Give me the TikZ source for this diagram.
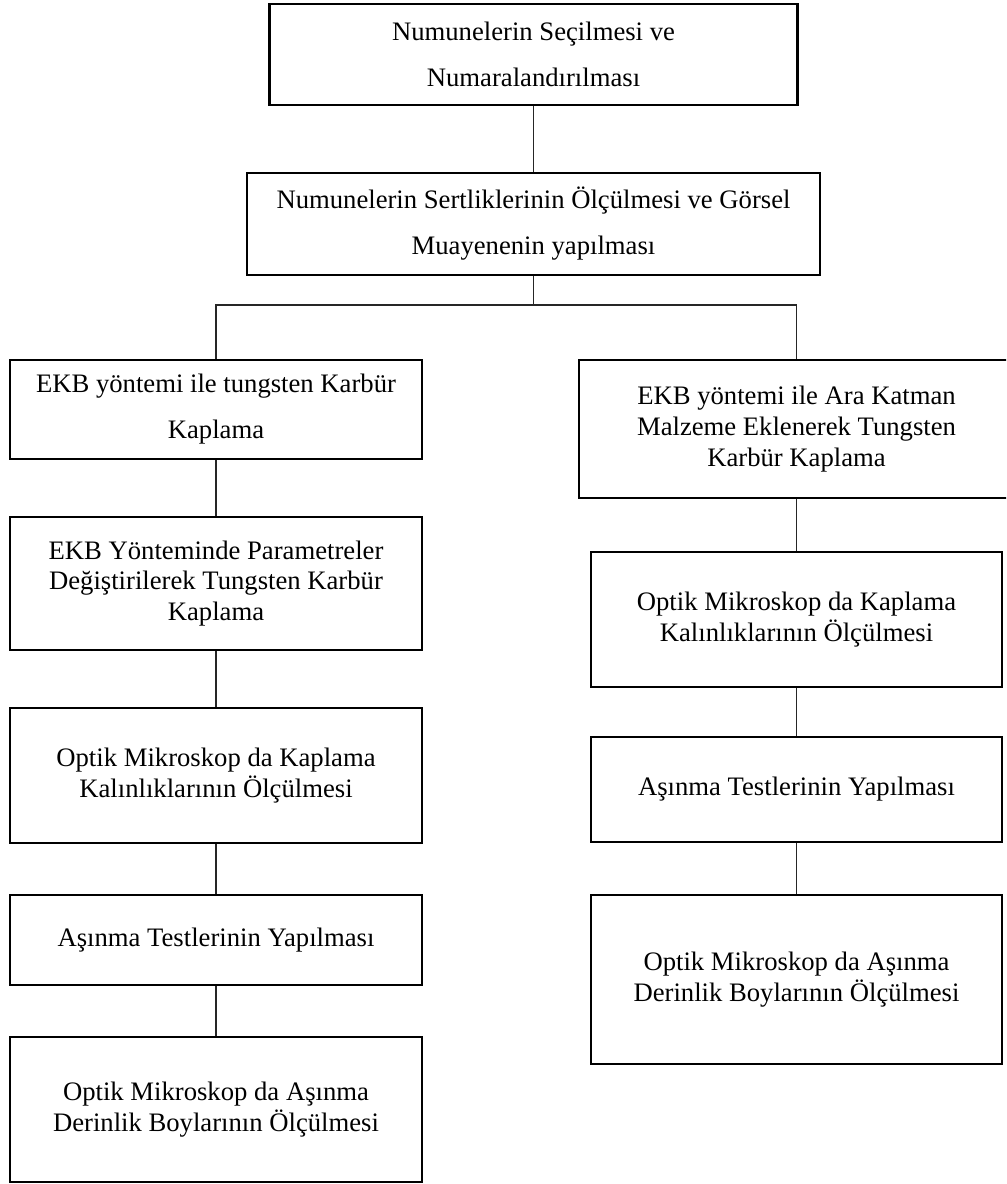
\documentclass[tikz,border=0pt]{standalone}
\usepackage{fontspec}
\setmainfont{Liberation Serif}
\begin{document}
\begin{tikzpicture}[x=0.75pt,y=-0.75pt,
  box/.style={draw=black, line width=2.2pt, inner sep=0pt, align=center,
    font=\fontsize{20}{23}\selectfont},
  wide/.style={font=\fontsize{20}{34.5}\selectfont},
  link/.style={draw=black!85, line width=0.9pt}]
\useasboundingbox (0,0) rectangle (1006,1184);
\clip (0,0) rectangle (1006,1184);
% top boxes
\node[box, wide, minimum width=396.4pt, minimum height=75.75pt] (b1) at (533.5,54.5)
  {Numunelerin Seçilmesi ve\\Numaralandırılması};
\node[box, wide, minimum width=429.75pt, minimum height=76.5pt] (b2) at (533.5,224)
  {Numunelerin Sertliklerinin Ölçülmesi ve Görsel\\Muayenenin yapılması};
\coordinate (j) at (533.5,305);
% left column
\node[box, wide, minimum width=309pt, minimum height=74.25pt] (L1) at (216,409.5)
  {EKB yöntemi ile tungsten Karbür\\Kaplama};
\node[box, minimum width=309pt, minimum height=99.75pt] (L2) at (216,583.5)
  {EKB Yönteminde Parametreler\\Değiştirilerek Tungsten Karbür\\Kaplama};
\node[box, minimum width=309pt, minimum height=101.25pt] (L3) at (216,775.5)
  {Optik Mikroskop da Kaplama\\Kalınlıklarının Ölçülmesi};
\node[box, minimum width=309pt, minimum height=67.5pt] (L4) at (216,940)
  {Aşınma Testlerinin Yapılması};
\node[box, minimum width=309pt, minimum height=108.75pt] (L5) at (216,1109.5)
  {Optik Mikroskop da Aşınma\\Derinlik Boylarının Ölçülmesi};
% right column
\node[box, minimum width=326.25pt, minimum height=103.5pt] (R1) at (796.5,429)
  {EKB yöntemi ile Ara Katman\\Malzeme Eklenerek Tungsten\\Karbür Kaplama};
\node[box, minimum width=308.25pt, minimum height=101.25pt] (R2) at (796.5,619.5)
  {Optik Mikroskop da Kaplama\\Kalınlıklarının Ölçülmesi};
\node[box, minimum width=308.25pt, minimum height=78.75pt] (R3) at (796.5,789.5)
  {Aşınma Testlerinin Yapılması};
\node[box, minimum width=308.25pt, minimum height=126.75pt] (R4) at (796.5,979.5)
  {Optik Mikroskop da Aşınma\\Derinlik Boylarının Ölçülmesi};
% connectors
\draw[link] (b1) -- (b2);
\draw[link] (b2) -- (j);
\draw[link] (L1.north) |- (j) -| (R1.north);
\draw[link] (L1) -- (L2);
\draw[link] (L2) -- (L3);
\draw[link] (L3) -- (L4);
\draw[link] (L4) -- (L5);
\draw[link] (R1) -- (R2);
\draw[link] (R2) -- (R3);
\draw[link] (R3) -- (R4);
\end{tikzpicture}
\end{document}
